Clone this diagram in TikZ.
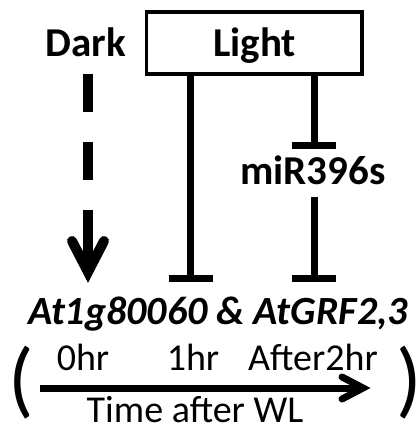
\documentclass[tikz,border=0pt]{standalone}
\usepackage{fontspec}
\setmainfont{Carlito}
\usetikzlibrary{arrows.meta,calc}
\begin{document}
\begin{tikzpicture}[x=1pt,y=-1pt,
  boldlbl/.style={font=\fontsize{41}{41}\selectfont\bfseries, anchor=base, inner sep=0pt},
  genelbl/.style={font=\fontsize{40}{40}\selectfont\bfseries\itshape, anchor=base, inner sep=0pt},
  reglbl/.style={font=\fontsize{38}{38}\selectfont, anchor=base, inner sep=0pt, text depth=0pt},
  parlbl/.style={font=\fontsize{84}{84}\selectfont, anchor=base, inner sep=0pt, text depth=0pt},
  inhib/.style={line width=7pt},
  tbar/.style={line width=7pt},
  darkdash/.style={line width=10pt, dash pattern=on 38pt off 30pt},
  chev/.style={line width=10pt, line cap=round, line join=miter},
  timearrow/.style={line width=7pt},
  timechev/.style={line width=7pt, line cap=round, line join=miter}]
\useasboundingbox (0,0) rectangle (418,430);
% Light box
\node[draw, line width=3.5pt, minimum width=215.5pt, minimum height=62pt, inner sep=0pt] (lightbox) at (254.25,43) {};
\node[boldlbl] (light) at (254.5,57) {Light};
\node[boldlbl] (dark) at (86,57) {Dark};
\node[boldlbl] (mir) at (313,185) {miR396s};
\node[genelbl] (gene) at (218,324) {At1g80060 \& AtGRF2,3};
% dark dashed arrow
\coordinate (dstart) at (88,74);
\coordinate (dtip) at (88,272);
\draw[darkdash] (dstart) -- (88,250);
\draw[line width=10pt] (88,211) -- (88,262);
\draw[chev] ($(dtip)+(-16,-31)$) -- (dtip) -- ($(dtip)+(16,-31)$);
% light inhibition to genes
\coordinate (l1s) at (190.5,74);
\coordinate (l1e) at (190.5,278.5);
\draw[inhib] (l1s) -- (l1e);
\draw[tbar] ($(l1e)+(-22,0)$) -- ($(l1e)+(22,0)$);
% light inhibition to miR
\coordinate (l2s) at (314,74);
\coordinate (l2e) at (314,146);
\draw[inhib] (l2s) -- (l2e);
\draw[tbar] ($(l2e)+(-22,0)$) -- ($(l2e)+(22,0)$);
% miR inhibition to genes
\coordinate (m2s) at (314,197);
\coordinate (m2e) at (314,278.5);
\draw[inhib] (m2s) -- (m2e);
\draw[tbar] ($(m2e)+(-22,0)$) -- ($(m2e)+(22,0)$);
% time axis
\node[reglbl] (t0) at (83,370) {0hr};
\node[reglbl] (t1) at (193,370) {1hr};
\node[reglbl] (t2) at (313,370) {After2hr};
\coordinate (tas) at (40,388);
\coordinate (tae) at (363,388);
\draw[timearrow] (tas) -- (tae);
\draw[timechev] ($(tae)+(-21,-11)$) -- (tae) -- ($(tae)+(-21,11)$);
\node[reglbl] (twl) at (195,422) {Time after WL};
\node[parlbl] (lp) at (21,407) {(};
\node[parlbl] (rp) at (409,407) {)};
\end{tikzpicture}
\end{document}
